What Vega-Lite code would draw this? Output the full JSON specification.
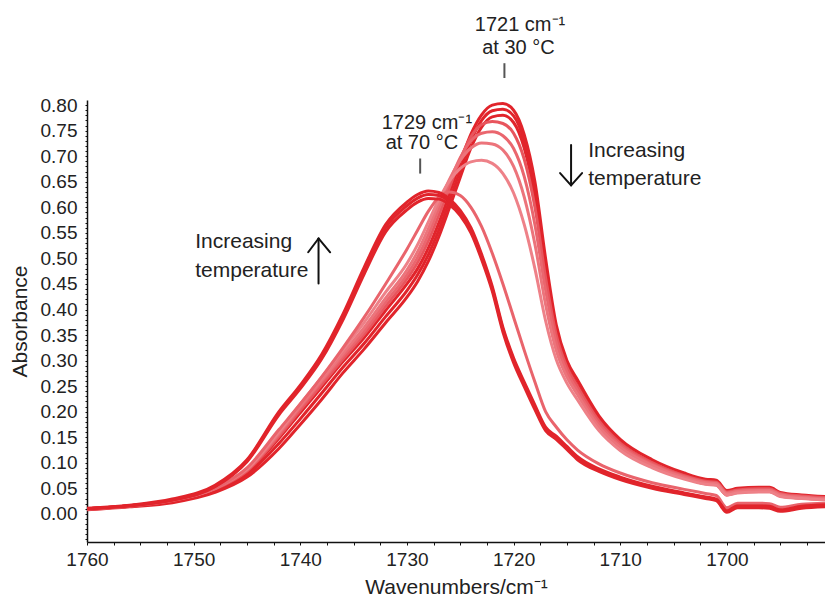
{
"$schema":"https://vega.github.io/schema/vega-lite/v6.json",
"width":738,"height":442,
"autosize":{"type":"none"},
"padding":{"left":87,"top":100,"right":0,"bottom":56},
"background":"white",
"config":{"view":{"stroke":null},"font":"Liberation Sans",
 "axis":{"labelOverlap":false,"labelFlush":false,"grid":false,"domainColor":"#111","domainWidth":1.5,"tickColor":"#111","tickWidth":1,
  "labelFont":"Liberation Sans","labelFontSize":19,"labelColor":"#222","titleFont":"Liberation Sans","titleFontSize":21,"titleFontWeight":"normal","titleColor":"#222"},
 "axisX":{"tickSize":3,"labelPadding":5,"titlePadding":7},
 "axisY":{"tickSize":2,"labelPadding":8,"titlePadding":10}},
"datasets":{
"spectra":[
{"s":"L1","w":1760,"a":0.010},{"s":"L1","w":1756,"a":0.016},{"s":"L1","w":1752,"a":0.026},{"s":"L1","w":1748,"a":0.048},{"s":"L1","w":1745,"a":0.082},{"s":"L1","w":1742,"a":0.148},{"s":"L1","w":1740,"a":0.198},{"s":"L1","w":1738,"a":0.248},{"s":"L1","w":1736,"a":0.298},{"s":"L1","w":1734,"a":0.345},{"s":"L1","w":1732,"a":0.398},{"s":"L1","w":1730,"a":0.450},{"s":"L1","w":1729,"a":0.480},{"s":"L1","w":1728,"a":0.520},{"s":"L1","w":1727,"a":0.570},{"s":"L1","w":1726,"a":0.628},{"s":"L1","w":1725,"a":0.688},{"s":"L1","w":1724,"a":0.743},{"s":"L1","w":1723,"a":0.781},{"s":"L1","w":1722,"a":0.800},{"s":"L1","w":1721,"a":0.803},{"s":"L1","w":1720,"a":0.790},{"s":"L1","w":1719,"a":0.742},{"s":"L1","w":1718,"a":0.650},{"s":"L1","w":1717,"a":0.500},{"s":"L1","w":1716,"a":0.370},{"s":"L1","w":1715,"a":0.300},{"s":"L1","w":1714,"a":0.262},{"s":"L1","w":1712,"a":0.192},{"s":"L1","w":1710,"a":0.146},{"s":"L1","w":1707,"a":0.106},{"s":"L1","w":1704,"a":0.080},{"s":"L1","w":1702,"a":0.068},{"s":"L1","w":1701,"a":0.066},{"s":"L1","w":1700,"a":0.046},{"s":"L1","w":1699,"a":0.050},{"s":"L1","w":1697,"a":0.052},{"s":"L1","w":1696,"a":0.052},{"s":"L1","w":1695,"a":0.042},{"s":"L1","w":1693,"a":0.037},{"s":"L1","w":1690.8,"a":0.034},
{"s":"L2","w":1760,"a":0.009},{"s":"L2","w":1756,"a":0.015},{"s":"L2","w":1752,"a":0.024},{"s":"L2","w":1748,"a":0.045},{"s":"L2","w":1745,"a":0.077},{"s":"L2","w":1742,"a":0.138},{"s":"L2","w":1740,"a":0.186},{"s":"L2","w":1738,"a":0.236},{"s":"L2","w":1736,"a":0.287},{"s":"L2","w":1734,"a":0.334},{"s":"L2","w":1732,"a":0.386},{"s":"L2","w":1730,"a":0.437},{"s":"L2","w":1729,"a":0.468},{"s":"L2","w":1728,"a":0.507},{"s":"L2","w":1727,"a":0.556},{"s":"L2","w":1726,"a":0.614},{"s":"L2","w":1725,"a":0.673},{"s":"L2","w":1724,"a":0.730},{"s":"L2","w":1723,"a":0.770},{"s":"L2","w":1722,"a":0.789},{"s":"L2","w":1721,"a":0.792},{"s":"L2","w":1720,"a":0.779},{"s":"L2","w":1719,"a":0.730},{"s":"L2","w":1718,"a":0.636},{"s":"L2","w":1717,"a":0.485},{"s":"L2","w":1716,"a":0.358},{"s":"L2","w":1715,"a":0.290},{"s":"L2","w":1714,"a":0.252},{"s":"L2","w":1712,"a":0.184},{"s":"L2","w":1710,"a":0.139},{"s":"L2","w":1707,"a":0.100},{"s":"L2","w":1704,"a":0.075},{"s":"L2","w":1702,"a":0.063},{"s":"L2","w":1701,"a":0.061},{"s":"L2","w":1700,"a":0.041},{"s":"L2","w":1699,"a":0.046},{"s":"L2","w":1697,"a":0.048},{"s":"L2","w":1696,"a":0.048},{"s":"L2","w":1695,"a":0.038},{"s":"L2","w":1693,"a":0.034},{"s":"L2","w":1690.8,"a":0.031},
{"s":"L3","w":1760,"a":0.008},{"s":"L3","w":1756,"a":0.014},{"s":"L3","w":1752,"a":0.022},{"s":"L3","w":1748,"a":0.042},{"s":"L3","w":1745,"a":0.072},{"s":"L3","w":1742,"a":0.128},{"s":"L3","w":1740,"a":0.175},{"s":"L3","w":1738,"a":0.224},{"s":"L3","w":1736,"a":0.276},{"s":"L3","w":1734,"a":0.323},{"s":"L3","w":1732,"a":0.374},{"s":"L3","w":1730,"a":0.424},{"s":"L3","w":1729,"a":0.455},{"s":"L3","w":1728,"a":0.494},{"s":"L3","w":1727,"a":0.543},{"s":"L3","w":1726,"a":0.600},{"s":"L3","w":1725,"a":0.659},{"s":"L3","w":1724,"a":0.716},{"s":"L3","w":1723,"a":0.757},{"s":"L3","w":1722,"a":0.777},{"s":"L3","w":1721,"a":0.780},{"s":"L3","w":1720,"a":0.766},{"s":"L3","w":1719,"a":0.716},{"s":"L3","w":1718,"a":0.620},{"s":"L3","w":1717,"a":0.470},{"s":"L3","w":1716,"a":0.346},{"s":"L3","w":1715,"a":0.280},{"s":"L3","w":1714,"a":0.243},{"s":"L3","w":1712,"a":0.176},{"s":"L3","w":1710,"a":0.132},{"s":"L3","w":1707,"a":0.095},{"s":"L3","w":1704,"a":0.071},{"s":"L3","w":1702,"a":0.059},{"s":"L3","w":1701,"a":0.057},{"s":"L3","w":1700,"a":0.037},{"s":"L3","w":1699,"a":0.042},{"s":"L3","w":1697,"a":0.044},{"s":"L3","w":1696,"a":0.044},{"s":"L3","w":1695,"a":0.035},{"s":"L3","w":1693,"a":0.031},{"s":"L3","w":1690.8,"a":0.028},
{"s":"M1","w":1760,"a":0.010},{"s":"M1","w":1756,"a":0.016},{"s":"M1","w":1752,"a":0.027},{"s":"M1","w":1748,"a":0.049},{"s":"M1","w":1745,"a":0.084},{"s":"M1","w":1742,"a":0.152},{"s":"M1","w":1740,"a":0.203},{"s":"M1","w":1738,"a":0.253},{"s":"M1","w":1736,"a":0.303},{"s":"M1","w":1734,"a":0.352},{"s":"M1","w":1732,"a":0.406},{"s":"M1","w":1730,"a":0.460},{"s":"M1","w":1729,"a":0.492},{"s":"M1","w":1728,"a":0.534},{"s":"M1","w":1727,"a":0.585},{"s":"M1","w":1726,"a":0.640},{"s":"M1","w":1725,"a":0.694},{"s":"M1","w":1724,"a":0.738},{"s":"M1","w":1723,"a":0.762},{"s":"M1","w":1722,"a":0.768},{"s":"M1","w":1721,"a":0.764},{"s":"M1","w":1720,"a":0.745},{"s":"M1","w":1719,"a":0.694},{"s":"M1","w":1718,"a":0.600},{"s":"M1","w":1717,"a":0.462},{"s":"M1","w":1716,"a":0.350},{"s":"M1","w":1715,"a":0.287},{"s":"M1","w":1714,"a":0.249},{"s":"M1","w":1712,"a":0.182},{"s":"M1","w":1710,"a":0.138},{"s":"M1","w":1707,"a":0.100},{"s":"M1","w":1704,"a":0.075},{"s":"M1","w":1702,"a":0.064},{"s":"M1","w":1701,"a":0.062},{"s":"M1","w":1700,"a":0.043},{"s":"M1","w":1699,"a":0.047},{"s":"M1","w":1697,"a":0.049},{"s":"M1","w":1696,"a":0.049},{"s":"M1","w":1695,"a":0.040},{"s":"M1","w":1693,"a":0.035},{"s":"M1","w":1690.8,"a":0.032},
{"s":"M2","w":1760,"a":0.010},{"s":"M2","w":1756,"a":0.016},{"s":"M2","w":1752,"a":0.027},{"s":"M2","w":1748,"a":0.050},{"s":"M2","w":1745,"a":0.086},{"s":"M2","w":1742,"a":0.156},{"s":"M2","w":1740,"a":0.208},{"s":"M2","w":1738,"a":0.259},{"s":"M2","w":1736,"a":0.309},{"s":"M2","w":1734,"a":0.358},{"s":"M2","w":1732,"a":0.414},{"s":"M2","w":1730,"a":0.468},{"s":"M2","w":1729,"a":0.502},{"s":"M2","w":1728,"a":0.546},{"s":"M2","w":1727,"a":0.598},{"s":"M2","w":1726,"a":0.650},{"s":"M2","w":1725,"a":0.697},{"s":"M2","w":1724,"a":0.730},{"s":"M2","w":1723,"a":0.745},{"s":"M2","w":1722,"a":0.748},{"s":"M2","w":1721,"a":0.740},{"s":"M2","w":1720,"a":0.715},{"s":"M2","w":1719,"a":0.660},{"s":"M2","w":1718,"a":0.566},{"s":"M2","w":1717,"a":0.438},{"s":"M2","w":1716,"a":0.336},{"s":"M2","w":1715,"a":0.278},{"s":"M2","w":1714,"a":0.241},{"s":"M2","w":1712,"a":0.176},{"s":"M2","w":1710,"a":0.134},{"s":"M2","w":1707,"a":0.097},{"s":"M2","w":1704,"a":0.073},{"s":"M2","w":1702,"a":0.062},{"s":"M2","w":1701,"a":0.060},{"s":"M2","w":1700,"a":0.041},{"s":"M2","w":1699,"a":0.045},{"s":"M2","w":1697,"a":0.047},{"s":"M2","w":1696,"a":0.047},{"s":"M2","w":1695,"a":0.038},{"s":"M2","w":1693,"a":0.033},{"s":"M2","w":1690.8,"a":0.030},
{"s":"M3","w":1760,"a":0.010},{"s":"M3","w":1756,"a":0.016},{"s":"M3","w":1752,"a":0.027},{"s":"M3","w":1748,"a":0.050},{"s":"M3","w":1745,"a":0.087},{"s":"M3","w":1742,"a":0.158},{"s":"M3","w":1740,"a":0.211},{"s":"M3","w":1738,"a":0.262},{"s":"M3","w":1736,"a":0.314},{"s":"M3","w":1734,"a":0.365},{"s":"M3","w":1732,"a":0.422},{"s":"M3","w":1730,"a":0.477},{"s":"M3","w":1729,"a":0.513},{"s":"M3","w":1728,"a":0.558},{"s":"M3","w":1727,"a":0.608},{"s":"M3","w":1726,"a":0.655},{"s":"M3","w":1725,"a":0.692},{"s":"M3","w":1724,"a":0.716},{"s":"M3","w":1723,"a":0.726},{"s":"M3","w":1722,"a":0.724},{"s":"M3","w":1721,"a":0.712},{"s":"M3","w":1720,"a":0.680},{"s":"M3","w":1719,"a":0.620},{"s":"M3","w":1718,"a":0.528},{"s":"M3","w":1717,"a":0.410},{"s":"M3","w":1716,"a":0.320},{"s":"M3","w":1715,"a":0.268},{"s":"M3","w":1714,"a":0.233},{"s":"M3","w":1712,"a":0.170},{"s":"M3","w":1710,"a":0.130},{"s":"M3","w":1707,"a":0.095},{"s":"M3","w":1704,"a":0.071},{"s":"M3","w":1702,"a":0.061},{"s":"M3","w":1701,"a":0.059},{"s":"M3","w":1700,"a":0.040},{"s":"M3","w":1699,"a":0.044},{"s":"M3","w":1697,"a":0.046},{"s":"M3","w":1696,"a":0.046},{"s":"M3","w":1695,"a":0.037},{"s":"M3","w":1693,"a":0.032},{"s":"M3","w":1690.8,"a":0.029},
{"s":"M4","w":1760,"a":0.010},{"s":"M4","w":1756,"a":0.016},{"s":"M4","w":1752,"a":0.027},{"s":"M4","w":1748,"a":0.051},{"s":"M4","w":1745,"a":0.088},{"s":"M4","w":1742,"a":0.161},{"s":"M4","w":1740,"a":0.215},{"s":"M4","w":1738,"a":0.267},{"s":"M4","w":1736,"a":0.321},{"s":"M4","w":1734,"a":0.375},{"s":"M4","w":1732,"a":0.434},{"s":"M4","w":1730,"a":0.490},{"s":"M4","w":1729,"a":0.527},{"s":"M4","w":1728,"a":0.571},{"s":"M4","w":1727,"a":0.616},{"s":"M4","w":1726,"a":0.652},{"s":"M4","w":1725,"a":0.676},{"s":"M4","w":1724,"a":0.689},{"s":"M4","w":1723,"a":0.692},{"s":"M4","w":1722,"a":0.686},{"s":"M4","w":1721,"a":0.666},{"s":"M4","w":1720,"a":0.628},{"s":"M4","w":1719,"a":0.566},{"s":"M4","w":1718,"a":0.480},{"s":"M4","w":1717,"a":0.378},{"s":"M4","w":1716,"a":0.302},{"s":"M4","w":1715,"a":0.256},{"s":"M4","w":1714,"a":0.223},{"s":"M4","w":1712,"a":0.163},{"s":"M4","w":1710,"a":0.124},{"s":"M4","w":1707,"a":0.090},{"s":"M4","w":1704,"a":0.068},{"s":"M4","w":1702,"a":0.058},{"s":"M4","w":1701,"a":0.056},{"s":"M4","w":1700,"a":0.037},{"s":"M4","w":1699,"a":0.041},{"s":"M4","w":1697,"a":0.043},{"s":"M4","w":1696,"a":0.043},{"s":"M4","w":1695,"a":0.034},{"s":"M4","w":1693,"a":0.030},{"s":"M4","w":1690.8,"a":0.027},
{"s":"X","w":1760,"a":0.009},{"s":"X","w":1756,"a":0.015},{"s":"X","w":1752,"a":0.026},{"s":"X","w":1748,"a":0.050},{"s":"X","w":1745,"a":0.090},{"s":"X","w":1742,"a":0.165},{"s":"X","w":1740,"a":0.215},{"s":"X","w":1738,"a":0.268},{"s":"X","w":1736,"a":0.325},{"s":"X","w":1734,"a":0.385},{"s":"X","w":1732,"a":0.450},{"s":"X","w":1730,"a":0.518},{"s":"X","w":1729,"a":0.555},{"s":"X","w":1728,"a":0.592},{"s":"X","w":1727,"a":0.620},{"s":"X","w":1726,"a":0.630},{"s":"X","w":1725,"a":0.623},{"s":"X","w":1724,"a":0.600},{"s":"X","w":1723,"a":0.562},{"s":"X","w":1722,"a":0.510},{"s":"X","w":1721,"a":0.450},{"s":"X","w":1720,"a":0.385},{"s":"X","w":1719,"a":0.320},{"s":"X","w":1718,"a":0.258},{"s":"X","w":1717,"a":0.200},{"s":"X","w":1716,"a":0.170},{"s":"X","w":1715,"a":0.145},{"s":"X","w":1714,"a":0.125},{"s":"X","w":1712,"a":0.098},{"s":"X","w":1710,"a":0.080},{"s":"X","w":1707,"a":0.061},{"s":"X","w":1704,"a":0.048},{"s":"X","w":1702,"a":0.040},{"s":"X","w":1701,"a":0.036},{"s":"X","w":1700,"a":0.012},{"s":"X","w":1699,"a":0.021},{"s":"X","w":1697,"a":0.021},{"s":"X","w":1696,"a":0.020},{"s":"X","w":1695,"a":0.013},{"s":"X","w":1693,"a":0.019},{"s":"X","w":1690.8,"a":0.021},
{"s":"H1","w":1760,"a":0.011},{"s":"H1","w":1756,"a":0.017},{"s":"H1","w":1752,"a":0.029},{"s":"H1","w":1748,"a":0.056},{"s":"H1","w":1745,"a":0.106},{"s":"H1","w":1742,"a":0.200},{"s":"H1","w":1740,"a":0.252},{"s":"H1","w":1738,"a":0.312},{"s":"H1","w":1736,"a":0.391},{"s":"H1","w":1734,"a":0.483},{"s":"H1","w":1732,"a":0.566},{"s":"H1","w":1730,"a":0.610},{"s":"H1","w":1729,"a":0.625},{"s":"H1","w":1728,"a":0.632},{"s":"H1","w":1727,"a":0.629},{"s":"H1","w":1726,"a":0.616},{"s":"H1","w":1725,"a":0.594},{"s":"H1","w":1724,"a":0.560},{"s":"H1","w":1723,"a":0.508},{"s":"H1","w":1722,"a":0.445},{"s":"H1","w":1721,"a":0.365},{"s":"H1","w":1720,"a":0.305},{"s":"H1","w":1719,"a":0.258},{"s":"H1","w":1718,"a":0.213},{"s":"H1","w":1717,"a":0.170},{"s":"H1","w":1716,"a":0.152},{"s":"H1","w":1715,"a":0.132},{"s":"H1","w":1714,"a":0.112},{"s":"H1","w":1712,"a":0.088},{"s":"H1","w":1710,"a":0.072},{"s":"H1","w":1707,"a":0.054},{"s":"H1","w":1704,"a":0.041},{"s":"H1","w":1702,"a":0.033},{"s":"H1","w":1701,"a":0.029},{"s":"H1","w":1700,"a":0.006},{"s":"H1","w":1699,"a":0.016},{"s":"H1","w":1697,"a":0.016},{"s":"H1","w":1696,"a":0.015},{"s":"H1","w":1695,"a":0.008},{"s":"H1","w":1693,"a":0.015},{"s":"H1","w":1690.8,"a":0.018},
{"s":"H2","w":1760,"a":0.010},{"s":"H2","w":1756,"a":0.016},{"s":"H2","w":1752,"a":0.027},{"s":"H2","w":1748,"a":0.054},{"s":"H2","w":1745,"a":0.104},{"s":"H2","w":1742,"a":0.197},{"s":"H2","w":1740,"a":0.249},{"s":"H2","w":1738,"a":0.308},{"s":"H2","w":1736,"a":0.386},{"s":"H2","w":1734,"a":0.477},{"s":"H2","w":1732,"a":0.560},{"s":"H2","w":1730,"a":0.603},{"s":"H2","w":1729,"a":0.618},{"s":"H2","w":1728,"a":0.625},{"s":"H2","w":1727,"a":0.623},{"s":"H2","w":1726,"a":0.611},{"s":"H2","w":1725,"a":0.589},{"s":"H2","w":1724,"a":0.555},{"s":"H2","w":1723,"a":0.503},{"s":"H2","w":1722,"a":0.441},{"s":"H2","w":1721,"a":0.361},{"s":"H2","w":1720,"a":0.301},{"s":"H2","w":1719,"a":0.254},{"s":"H2","w":1718,"a":0.209},{"s":"H2","w":1717,"a":0.167},{"s":"H2","w":1716,"a":0.149},{"s":"H2","w":1715,"a":0.129},{"s":"H2","w":1714,"a":0.109},{"s":"H2","w":1712,"a":0.086},{"s":"H2","w":1710,"a":0.070},{"s":"H2","w":1707,"a":0.052},{"s":"H2","w":1704,"a":0.040},{"s":"H2","w":1702,"a":0.032},{"s":"H2","w":1701,"a":0.028},{"s":"H2","w":1700,"a":0.005},{"s":"H2","w":1699,"a":0.014},{"s":"H2","w":1697,"a":0.014},{"s":"H2","w":1696,"a":0.013},{"s":"H2","w":1695,"a":0.007},{"s":"H2","w":1693,"a":0.013},{"s":"H2","w":1690.8,"a":0.016},
{"s":"H3","w":1760,"a":0.010},{"s":"H3","w":1756,"a":0.016},{"s":"H3","w":1752,"a":0.027},{"s":"H3","w":1748,"a":0.053},{"s":"H3","w":1745,"a":0.102},{"s":"H3","w":1742,"a":0.194},{"s":"H3","w":1740,"a":0.245},{"s":"H3","w":1738,"a":0.303},{"s":"H3","w":1736,"a":0.380},{"s":"H3","w":1734,"a":0.470},{"s":"H3","w":1732,"a":0.552},{"s":"H3","w":1730,"a":0.595},{"s":"H3","w":1729,"a":0.610},{"s":"H3","w":1728,"a":0.617},{"s":"H3","w":1727,"a":0.616},{"s":"H3","w":1726,"a":0.605},{"s":"H3","w":1725,"a":0.584},{"s":"H3","w":1724,"a":0.550},{"s":"H3","w":1723,"a":0.498},{"s":"H3","w":1722,"a":0.436},{"s":"H3","w":1721,"a":0.356},{"s":"H3","w":1720,"a":0.296},{"s":"H3","w":1719,"a":0.249},{"s":"H3","w":1718,"a":0.204},{"s":"H3","w":1717,"a":0.163},{"s":"H3","w":1716,"a":0.146},{"s":"H3","w":1715,"a":0.126},{"s":"H3","w":1714,"a":0.106},{"s":"H3","w":1712,"a":0.083},{"s":"H3","w":1710,"a":0.067},{"s":"H3","w":1707,"a":0.050},{"s":"H3","w":1704,"a":0.038},{"s":"H3","w":1702,"a":0.030},{"s":"H3","w":1701,"a":0.026},{"s":"H3","w":1700,"a":0.003},{"s":"H3","w":1699,"a":0.012},{"s":"H3","w":1697,"a":0.012},{"s":"H3","w":1696,"a":0.011},{"s":"H3","w":1695,"a":0.005},{"s":"H3","w":1693,"a":0.011},{"s":"H3","w":1690.8,"a":0.014}
],
"peaklabels":[
{"t":"1721 cm⁻¹","w":1719.4,"a":0.945},{"t":"at 30 °C","w":1719.55,"a":0.901},
{"t":"1729 cm⁻¹","w":1728.13,"a":0.754},{"t":"at 70 °C","w":1728.6,"a":0.715}
],
"notes":[
{"t":"Increasing","w":1749.85,"a":0.52},{"t":"temperature","w":1749.85,"a":0.4636},
{"t":"Increasing","w":1713.0,"a":0.699},{"t":"temperature","w":1713.0,"a":0.643}
],
"markers":[
{"w":1720.86,"a":0.882,"w2":1720.86,"a2":0.853},
{"w":1728.76,"a":0.6955,"w2":1728.76,"a2":0.666}
],
"arrows":[
{"w":1738.29,"a":0.451,"w2":1738.29,"a2":0.539},
{"w":1739.26,"a":0.512,"w2":1738.29,"a2":0.539},
{"w":1737.2,"a":0.512,"w2":1738.29,"a2":0.539},
{"w":1714.61,"a":0.722,"w2":1714.61,"a2":0.643},
{"w":1715.64,"a":0.667,"w2":1714.61,"a2":0.643},
{"w":1713.58,"a":0.667,"w2":1714.61,"a2":0.643}
]
},
"encoding":{
 "x":{"field":"w","type":"quantitative",
  "scale":{"domain":[1690.8,1760],"reverse":true,"nice":false,"zero":false},
  "axis":{"title":"Wavenumbers/cm⁻¹","values":[1760,1757.5,1755,1752.5,1750,1747.5,1745,1742.5,1740,1737.5,1735,1732.5,1730,1727.5,1725,1722.5,1720,1717.5,1715,1712.5,1710,1707.5,1705,1702.5,1700,1697.5,1695,1692.5],
   "labelExpr":"datum.value % 10 === 0 ? format(datum.value, 'd') : ''","labelOverlap":false}},
 "y":{"field":"a","type":"quantitative",
  "scale":{"domain":[-0.055,0.81],"nice":false,"zero":false},
  "axis":{"title":"Absorbance","values":[-0.05,-0.04,-0.03,-0.02,-0.01,0,0.01,0.02,0.03,0.04,0.05,0.06,0.07,0.08,0.09,0.1,0.11,0.12,0.13,0.14,0.15,0.16,0.17,0.18,0.19,0.2,0.21,0.22,0.23,0.24,0.25,0.26,0.27,0.28,0.29,0.3,0.31,0.32,0.33,0.34,0.35,0.36,0.37,0.38,0.39,0.4,0.41,0.42,0.43,0.44,0.45,0.46,0.47,0.48,0.49,0.5,0.51,0.52,0.53,0.54,0.55,0.56,0.57,0.58,0.59,0.6,0.61,0.62,0.63,0.64,0.65,0.66,0.67,0.68,0.69,0.7,0.71,0.72,0.73,0.74,0.75,0.76,0.77,0.78,0.79,0.8],
   "labelExpr":"(datum.value > -0.001 && round(datum.value*100) % 5 === 0) ? format(datum.value, '.2f') : ''","labelOverlap":false}}
},
"layer":[
{"data":{"name":"spectra"},
 "mark":{"type":"line","interpolate":"monotone","clip":true},
 "encoding":{
  "detail":{"field":"s"},
  "color":{"field":"s","type":"nominal","legend":null,
   "scale":{"domain":["L1","L2","L3","M1","M2","M3","M4","X","H1","H2","H3"],
            "range":["#e1242b","#e1242b","#e1242b","#e8555d","#ea666e","#ec747b","#ee8188","#e9646c","#e1242b","#e1242b","#e1242b"]}},
  "strokeWidth":{"field":"s","type":"ordinal","legend":null,
   "scale":{"domain":["L1","L2","L3","M1","M2","M3","M4","X","H1","H2","H3"],
            "range":[3,3,3,1.3,1.3,1.3,1.3,1.5,2.4,2.4,2.4]}}
 }},
{"data":{"name":"markers"},
 "mark":{"type":"rule","color":"#555","strokeWidth":2},
 "encoding":{"x2":{"field":"w2"},"y2":{"field":"a2"}}},
{"data":{"name":"arrows"},
 "mark":{"type":"rule","color":"#111","strokeWidth":2,"strokeCap":"round"},
 "encoding":{"x2":{"field":"w2"},"y2":{"field":"a2"}}},
{"data":{"name":"peaklabels"},
 "mark":{"type":"text","align":"center","baseline":"alphabetic","font":"Liberation Sans","fontSize":20,"color":"#222"},
 "encoding":{"text":{"field":"t"}}},
{"data":{"name":"notes"},
 "mark":{"type":"text","align":"left","baseline":"alphabetic","font":"Liberation Sans","fontSize":21,"color":"#222"},
 "encoding":{"text":{"field":"t"}}}
]
}
